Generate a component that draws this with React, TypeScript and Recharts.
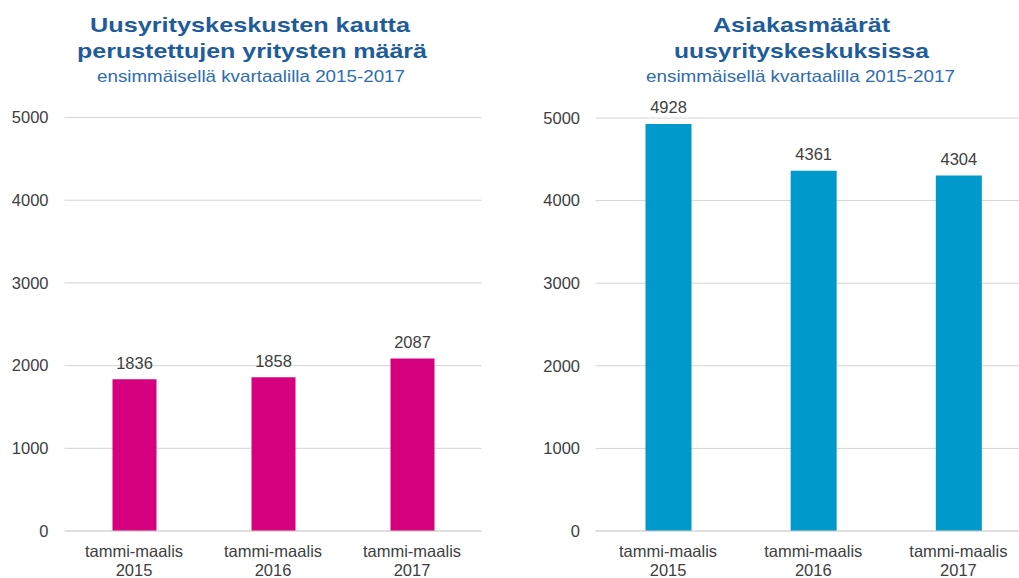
import React from "react";
import { BarChart, Bar, XAxis, YAxis, CartesianGrid, LabelList } from "recharts";

const categories = ["tammi-maalis 2015", "tammi-maalis 2016", "tammi-maalis 2017"];
const foundedCompanies = [1836, 1858, 2087];
const customerCounts = [4928, 4361, 4304];
const yTicks = [0, 1000, 2000, 3000, 4000, 5000];

const leftTitle = ["Uusyrityskeskusten kautta", "perustettujen yritysten määrä"];
const rightTitle = ["Asiakasmäärät", "uusyrityskeskuksissa"];
const subtitle = "ensimmäisellä kvartaalilla 2015-2017";

const leftData = categories.map((c, i) => ({ cat: c, value: foundedCompanies[i] }));
const rightData = categories.map((c, i) => ({ cat: c, value: customerCounts[i] }));

const FONT = "'Liberation Sans', Arial, sans-serif";
const TEXT = "#404040";
const GRID = "#D4D4D4";
const TITLE = "#1F5C9B";
const SUB = "#2E6CB0";

const CatTick = (props: any) => {
  const { x, y, payload } = props;
  const parts = String(payload.value).split(" ");
  return (
    <text x={x} textAnchor="middle" fill={TEXT} fontSize={16.5} fontFamily={FONT}>
      <tspan x={x} y={y + 26}>{parts[0]}</tspan>
      <tspan x={x} y={y + 45}>{parts[1]}</tspan>
    </text>
  );
};

function Panel(props: { data: any[]; color: string; width: number; yWidth: number; top: number; barSize: number; tickMargin: number; right: number }) {
  const { data, color, width, yWidth, top, barSize, tickMargin, right } = props;
  return (
    <BarChart width={width} height={578} data={data} margin={{ top, right, left: 0, bottom: 0 }}>
      <CartesianGrid vertical={false} stroke={GRID} strokeWidth={1} />
      <XAxis
        dataKey="cat"
        height={47}
        tickLine={false}
        axisLine={{ stroke: GRID }}
        tickSize={0}
        tickMargin={0}
        tick={<CatTick />}
        interval={0}
      />
      <YAxis
        width={yWidth}
        domain={[0, 5000]}
        ticks={yTicks}
        axisLine={false}
        tickLine={false}
        tickSize={0}
        tickMargin={tickMargin}
        tick={{ fill: TEXT, fontSize: 16.5, fontFamily: FONT }}
      />
      <Bar dataKey="value" fill={color} barSize={barSize} isAnimationActive={false}>
        <LabelList dataKey="value" position="top" offset={10.5} fill={TEXT} fontSize={16.5} fontFamily={FONT} />
      </Bar>
    </BarChart>
  );
}

export default function App() {
  return (
    <div style={{ position: "absolute", left: 0, top: 0, width: 1019, height: 578, overflow: "hidden", background: "#fff" }}>
      <div style={{ position: "absolute", left: 0, top: 0 }}>
        <Panel data={leftData} color="#D5007D" width={500} yWidth={64.5} top={117.5} barSize={44} tickMargin={16} right={18.5} />
      </div>
      <div style={{ position: "absolute", left: 520, top: 0 }}>
        <Panel data={rightData} color="#0099CC" width={511} yWidth={75.5} top={118} barSize={46} tickMargin={15.5} right={0} />
      </div>
      <svg width={1019} height={578} style={{ position: "absolute", left: 0, top: 0, pointerEvents: "none" }}>
        <g fontFamily={FONT} textAnchor="middle">
          <text x={250} y={32} fontSize={21} fontWeight="bold" fill={TITLE} textLength={320} lengthAdjust="spacingAndGlyphs">{leftTitle[0]}</text>
          <text x={252} y={58} fontSize={21} fontWeight="bold" fill={TITLE} textLength={350} lengthAdjust="spacingAndGlyphs">{leftTitle[1]}</text>
          <text x={251} y={81.5} fontSize={17} fill={SUB} textLength={308} lengthAdjust="spacingAndGlyphs">{subtitle}</text>
          <text x={801.5} y={32} fontSize={21} fontWeight="bold" fill={TITLE} textLength={177} lengthAdjust="spacingAndGlyphs">{rightTitle[0]}</text>
          <text x={801.5} y={58} fontSize={21} fontWeight="bold" fill={TITLE} textLength={255} lengthAdjust="spacingAndGlyphs">{rightTitle[1]}</text>
          <text x={800.5} y={81.5} fontSize={17} fill={SUB} textLength={309} lengthAdjust="spacingAndGlyphs">{subtitle}</text>
        </g>
      </svg>
    </div>
  );
}
